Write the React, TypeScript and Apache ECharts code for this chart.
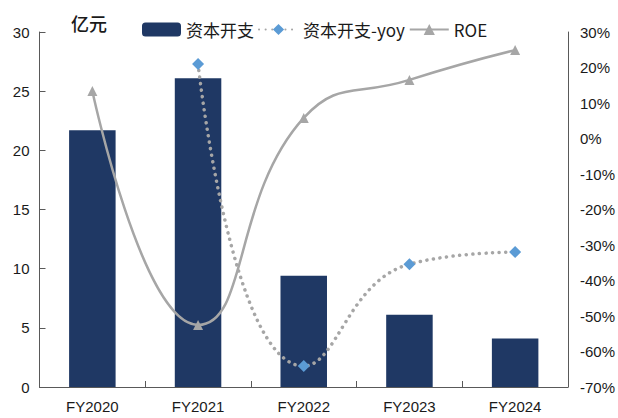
import React, { useEffect, useRef } from "react";
import * as echarts from "echarts";

const categories = ["FY2020", "FY2021", "FY2022", "FY2023", "FY2024"];
const capex = [21.7, 26.1, 9.4, 6.1, 4.1];
const capexYoy: (number | null)[] = [null, 21.0, -64.1, -35.4, -32.0];
const roe = [13.4, -52.5, 5.8, 16.5, 24.9];

const NAVY = "#1F3864";
const GREY = "#A6A6A6";
const BLUE = "#5B9BD5";
const AXIS = "#595959";
const TEXT = "#1a1a1a";
const LATIN = "Liberation Sans";
const CJK = "Noto Sans CJK SC";

export default function App() {
  const ref = useRef<HTMLDivElement>(null);
  useEffect(() => {
    if (!ref.current) return;
    const chart = echarts.init(ref.current, null, { renderer: "svg" });
    chart.setOption({
      animation: false,
      backgroundColor: "#ffffff",
      grid: { left: 39.5, right: 49.5, top: 32, bottom: 31 },
      graphic: [
        {
          type: "text",
          left: 71,
          top: 14,
          style: { text: "亿元", fontSize: 18, fontFamily: CJK, fontWeight: 500, fill: TEXT },
        },
      ],
      legend: {
        left: 137,
        top: 16,
        itemWidth: 39,
        itemHeight: 14,
        itemGap: 4,
        textStyle: { fontSize: 17, fontFamily: CJK, color: TEXT },
        data: ["资本开支", "资本开支-yoy", "ROE"],
      },
      xAxis: {
        type: "category",
        data: categories,
        axisLine: { lineStyle: { color: AXIS, width: 1 } },
        axisTick: { show: true, inside: true, length: 6, alignWithLabel: false, lineStyle: { color: AXIS } },
        axisLabel: { fontSize: 15, fontFamily: LATIN, color: TEXT, margin: 12 },
      },
      yAxis: [
        {
          type: "value",
          min: 0,
          max: 30,
          interval: 5,
          splitLine: { show: false },
          axisLine: { show: true, lineStyle: { color: AXIS } },
          axisTick: { show: true, inside: true, length: 6, lineStyle: { color: AXIS } },
          axisLabel: { fontSize: 15, fontFamily: LATIN, color: TEXT, margin: 10 },
        },
        {
          type: "value",
          min: -70,
          max: 30,
          interval: 10,
          splitLine: { show: false },
          axisLine: { show: true, lineStyle: { color: AXIS } },
          axisTick: { show: false },
          axisLabel: {
            fontSize: 15,
            fontFamily: LATIN,
            color: TEXT,
            margin: 12,
            formatter: (v: number) => `${v}%`,
          },
        },
      ],
      series: [
        {
          name: "资本开支",
          type: "bar",
          data: capex,
          barWidth: "44%",
          itemStyle: { color: NAVY },
          z: 1,
        },
        {
          name: "资本开支-yoy",
          type: "line",
          yAxisIndex: 1,
          data: capexYoy,
          smooth: 0.5,
          connectNulls: false,
          symbol: "diamond",
          symbolSize: 12,
          itemStyle: { color: BLUE },
          lineStyle: { color: GREY, width: 3.5, type: [0.1, 6.5], cap: "round" },
          z: 3,
        },
        {
          name: "ROE",
          type: "line",
          yAxisIndex: 1,
          data: roe,
          smooth: 0.5,
          symbol: "triangle",
          symbolSize: 10,
          itemStyle: { color: GREY },
          lineStyle: { color: GREY, width: 2.5 },
          z: 2,
        },
      ],
    });
    return () => chart.dispose();
  }, []);
  return (
    <div
      ref={ref}
      style={{ position: "fixed", left: 0, top: 0, width: 618, height: 418, background: "#fff" }}
    />
  );
}
